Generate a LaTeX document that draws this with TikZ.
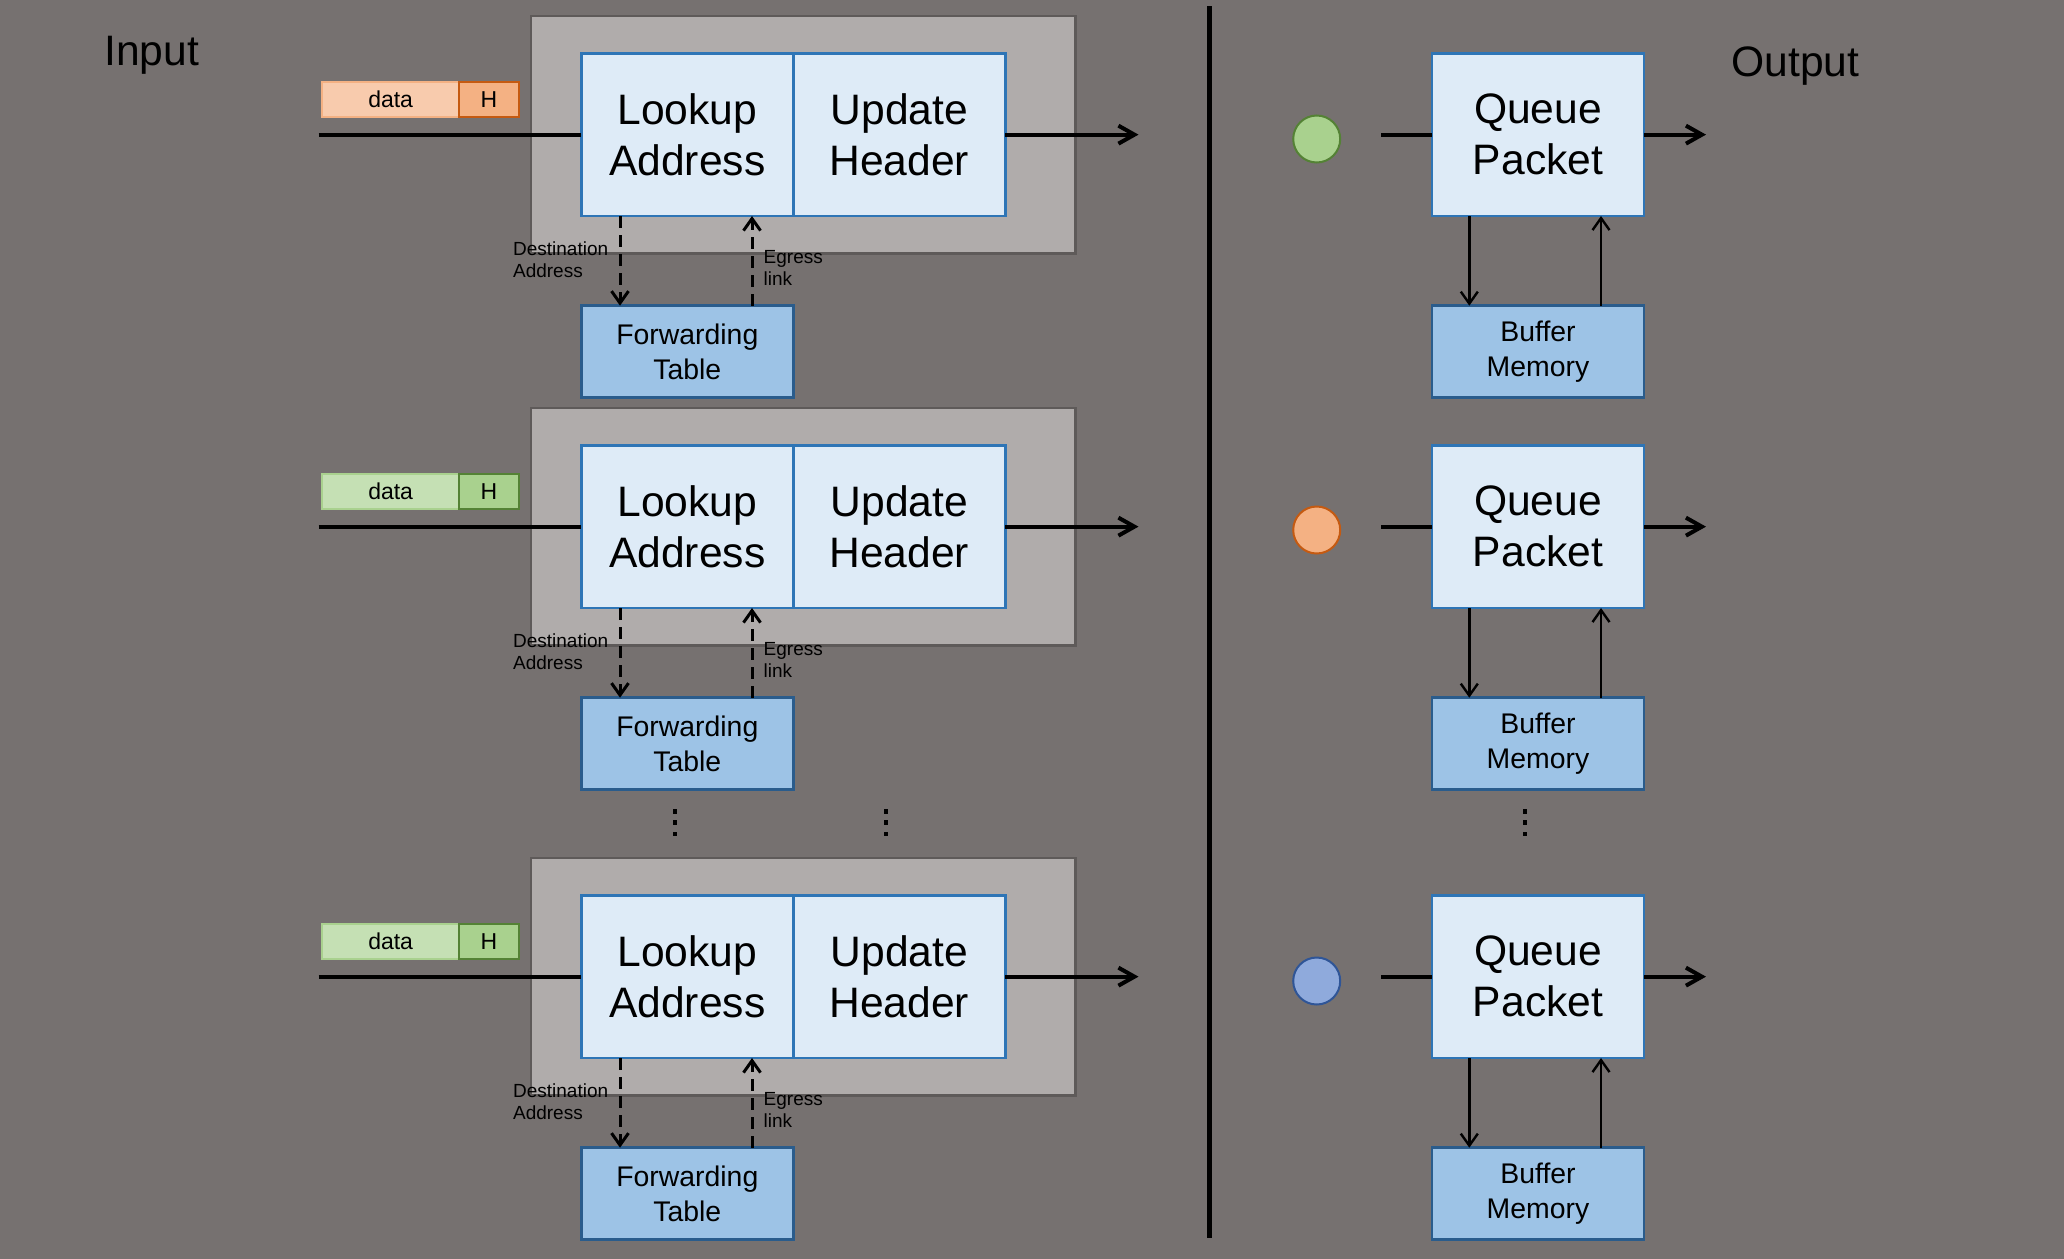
\documentclass[tikz,border=0pt]{standalone}
\usepackage{fontspec}
\setmainfont{Liberation Sans}
\usetikzlibrary{arrows.meta}
\definecolor{bgcol}{HTML}{767170}
\definecolor{grpfill}{HTML}{B0ACAB}
\definecolor{grpdraw}{HTML}{5E5A59}
\definecolor{boxfill}{HTML}{DEEBF7}
\definecolor{boxdraw}{HTML}{2E75B6}
\definecolor{tblfill}{HTML}{9DC3E6}
\definecolor{tbldraw}{HTML}{2A5C8C}
\definecolor{OLfill}{HTML}{F8CBAD}
\definecolor{OLdraw}{HTML}{F4B183}
\definecolor{ODfill}{HTML}{F4B183}
\definecolor{ODdraw}{HTML}{C55A11}
\definecolor{GLfill}{HTML}{C5E0B4}
\definecolor{GLdraw}{HTML}{A9D18E}
\definecolor{GDfill}{HTML}{A9D18E}
\definecolor{GDdraw}{HTML}{548235}
\definecolor{BDfill}{HTML}{8FAADC}
\definecolor{BDdraw}{HTML}{2F5597}
\begin{document}
\begin{tikzpicture}[x=0.5pt,y=-0.5pt,
  bigtxt/.style={font=\fontsize{21.3pt}{25.5pt}\selectfont},
  midtxt/.style={font=\fontsize{14.2pt}{17.3pt}\selectfont},
  smalltxt/.style={font=\fontsize{9.5pt}{11.15pt}\selectfont},
  pkttxt/.style={font=\fontsize{11.5pt}{13pt}\selectfont},
  grpbox/.style={draw=grpdraw, fill=grpfill, line width=1.4pt, minimum width=272.25pt, minimum height=118.65pt, inner sep=0pt, outer sep=0pt, anchor=north west},
  procbox/.style={draw=boxdraw, fill=boxfill, line width=1.4pt, minimum width=106pt, minimum height=81.35pt, inner sep=0pt, outer sep=0pt, anchor=north west, align=center, bigtxt},
  tblbox/.style={draw=tbldraw, fill=tblfill, line width=1.4pt, minimum width=106pt, minimum height=46pt, inner sep=0pt, outer sep=0pt, anchor=north west, align=center, midtxt},
  pktbox/.style={line width=1pt, minimum height=17.8pt, inner sep=0pt, outer sep=0pt, anchor=north west, pkttxt},
  dot/.style={circle, line width=1pt, minimum size=23.5pt, inner sep=0pt},
  lbl/.style={inner sep=0pt, align=left, anchor=west, smalltxt},
  thickline/.style={line width=2pt},
  bigarrow/.style={line width=2pt, -{Straight Barb[length=8pt,width=9pt]}},
  thinarrow/.style={line width=1.2pt, -{Straight Barb[length=6pt,width=8.5pt]}},
  dasharrow/.style={line width=1.5pt, dash pattern=on 6pt off 3.5pt, -{Straight Barb[length=6pt,width=8.5pt]}},
  divider/.style={line width=2.5pt}
]
\useasboundingbox (0,0) rectangle (2064,1258);
\fill[bgcol] (-10,-10) rectangle (2074,1268);

\node[anchor=base west, inner sep=0pt, bigtxt] (inlbl) at (104,65.7) {Input};
\node[anchor=base west, inner sep=0pt, bigtxt] (outlbl) at (1731,76) {Output};

\foreach \i/\dy/\dfill/\ddraw/\hfill/\hdraw/\cfill/\cdraw/\cy in
  {1/0/OLfill/OLdraw/ODfill/ODdraw/GDfill/GDdraw/139,
   2/392/GLfill/GLdraw/GDfill/GDdraw/ODfill/ODdraw/530,
   3/842/GLfill/GLdraw/GDfill/GDdraw/BDfill/BDdraw/981}{
  % left block
  \node[grpbox] (gb\i) at (531,{16+\dy}) {};
  \node[pktbox, fill=\dfill, draw=\ddraw, minimum width=68.65pt] (dt\i) at (322,{81.7+\dy}) {data};
  \node[pktbox, fill=\hfill, draw=\hdraw, minimum width=29.7pt] (hd\i) at (459.3,{81.7+\dy}) {H};
  \node[procbox] (la\i) at (581.3,{53.3+\dy}) {Lookup\\Address};
  \node[procbox] (ua\i) at (793.3,{53.3+\dy}) {Update\\Header};
  \node[tblbox] (ft\i) at (581.3,{305.7+\dy}) {Forwarding\\Table};
  \coordinate (in\i) at (318.5,{134.65+\dy});
  \coordinate (out\i) at (1138.5,{134.65+\dy});
  \draw[thickline] (la\i.west -| in\i) -- (la\i.west);
  \draw[bigarrow] (ua\i.east) -- (ua\i.east -| out\i);
  \draw[dasharrow] ([xshift=19.35pt]la\i.south west) -- ([xshift=19.35pt]ft\i.north west);
  \draw[dasharrow] ([xshift=85.35pt]ft\i.north west) -- ([xshift=85.35pt]la\i.south west);
  \node[lbl] (dl\i) at (512.7,{259.4+\dy}) {Destination\\Address};
  \node[lbl] (el\i) at (763.3,{267.7+\dy}) {Egress\\link};
  % right block
  \node[dot, fill=\cfill, draw=\cdraw] (c\i) at (1316.7,\cy) {};
  \node[procbox] (qp\i) at (1432,{53.3+\dy}) {Queue\\Packet};
  \node[tblbox] (bm\i) at (1432,{305.7+\dy}) {\raisebox{-1pt}{Buffer}\\\raisebox{-1pt}{Memory}};
  \coordinate (rin\i) at (1381,{134.65+\dy});
  \coordinate (rout\i) at (1706,{134.65+\dy});
  \draw[thickline] (qp\i.west -| rin\i) -- (qp\i.west);
  \draw[bigarrow] (qp\i.east) -- (qp\i.east -| rout\i);
  \draw[thinarrow] ([xshift=18.65pt]qp\i.south west) -- ([xshift=18.65pt]bm\i.north west);
  \draw[thinarrow] ([xshift=84.5pt]bm\i.north west) -- ([xshift=84.5pt]qp\i.south west);
}

% divider
\coordinate (dvtop) at (1209.7,6);
\coordinate (dvbot) at (1209.7,1238.3);
\draw[divider] (dvtop) -- (dvbot);

% vertical ellipses
\foreach \xx in {675,886,1525}{
  \foreach \yy in {811.5,822.5,834}{
    \fill[black] ({\xx-2.3},{\yy-2.3}) rectangle ({\xx+2.3},{\yy+2.3});
  }
}
\end{tikzpicture}
\end{document}
